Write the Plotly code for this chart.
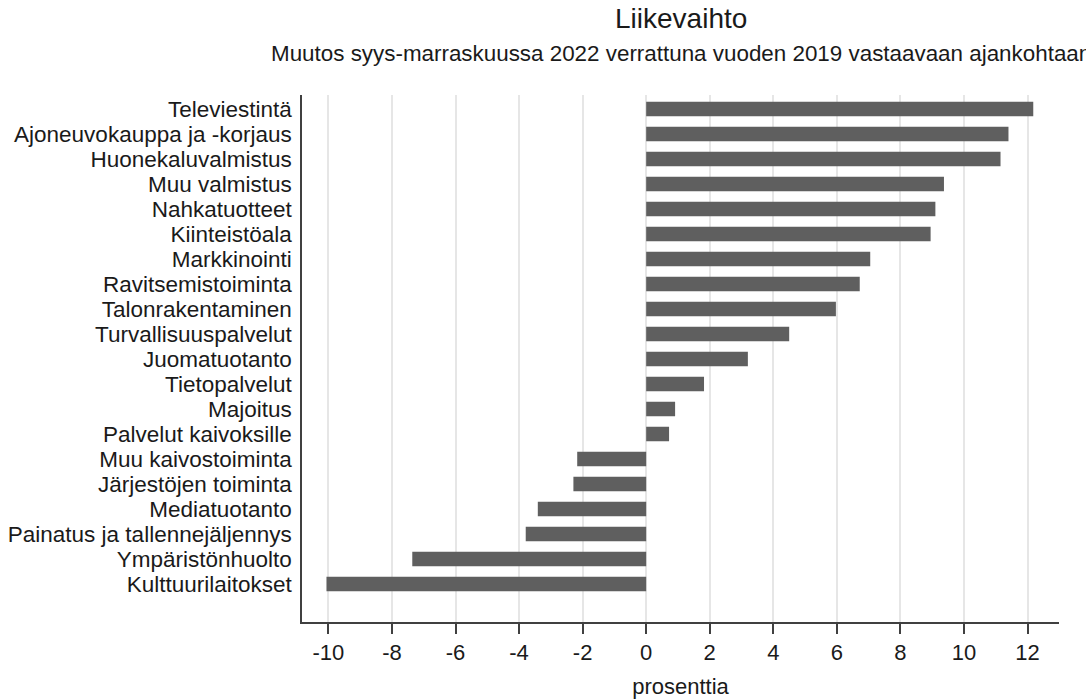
import plotly.graph_objects as go

categories = [
    "Televiestintä", "Ajoneuvokauppa ja -korjaus", "Huonekaluvalmistus",
    "Muu valmistus", "Nahkatuotteet", "Kiinteistöala", "Markkinointi",
    "Ravitsemistoiminta", "Talonrakentaminen", "Turvallisuuspalvelut",
    "Juomatuotanto", "Tietopalvelut", "Majoitus", "Palvelut kaivoksille",
    "Muu kaivostoiminta", "Järjestöjen toiminta", "Mediatuotanto",
    "Painatus ja tallennejäljennys", "Ympäristönhuolto", "Kulttuurilaitokset",
]
values = [
    12.18, 11.40, 11.15, 9.37, 9.10, 8.95, 7.05, 6.72, 5.97, 4.50,
    3.20, 1.82, 0.91, 0.72, -2.17, -2.29, -3.41, -3.79, -7.36, -10.06,
]
x_ticks = [-10, -8, -6, -4, -2, 0, 2, 4, 6, 8, 10, 12]

title_text = "Liikevaihto"
subtitle_text = "Muutos syys-marraskuussa 2022 verrattuna vuoden 2019 vastaavaan ajankohtaan"
x_title = "prosenttia"

FONT = "Liberation Sans, Arial, sans-serif"
W, H = 1086, 699
ML, MR, MT, MB = 302, 27, 95, 77
plot_h = H - MT - MB

def paper_y(px):
    return (H - MB - px) / plot_h

fig = go.Figure(go.Bar(
    x=values, y=categories, orientation="h",
    marker=dict(color="#5f5f5f", line=dict(width=0)),
    width=0.58, hoverinfo="x+y",
))

fig.update_layout(
    width=W, height=H,
    margin=dict(l=ML, r=MR, t=MT, b=MB, pad=0, autoexpand=False),
    paper_bgcolor="white", plot_bgcolor="white",
    font=dict(family=FONT, size=22, color="#1a1a1a"),
    showlegend=False,
    annotations=[
        dict(text=title_text, x=0.5, y=paper_y(19), xref="paper", yref="paper",
             xanchor="center", yanchor="middle", showarrow=False,
             font=dict(size=28, family=FONT, color="#1a1a1a")),
        dict(text=subtitle_text, x=0.5, y=paper_y(53), xref="paper", yref="paper",
             xanchor="center", yanchor="middle", showarrow=False,
             font=dict(size=22.4, family=FONT, color="#1a1a1a")),
    ],
)

fig.update_xaxes(
    range=[-10.83, 12.99], tickvals=x_ticks,
    ticktext=[str(v) for v in x_ticks],
    showgrid=True, gridcolor="#e6e6e6", gridwidth=2, zeroline=False,
    showline=True, linecolor="#404040", linewidth=1.5,
    ticks="outside", ticklen=10, tickwidth=1.5, tickcolor="#404040",
    ticklabelstandoff=0,
    tickfont=dict(size=22, family=FONT, color="#1a1a1a"),
    title=dict(text=x_title, font=dict(size=22, family=FONT, color="#1a1a1a"), standoff=20),
    automargin=False,
)
fig.update_yaxes(
    type="category", categoryorder="array", categoryarray=categories,
    tickmode="linear", tick0=0, dtick=1,
    range=[20.52, -0.56],
    showgrid=False, zeroline=False,
    showline=True, linecolor="#404040", linewidth=1.5,
    ticks="", ticklabelstandoff=4,
    tickfont=dict(size=22.5, family=FONT, color="#1a1a1a"),
    automargin=False,
)

fig.write_html("out.html", config={"displayModeBar": False},
               post_script="document.body.style.margin='0';")
